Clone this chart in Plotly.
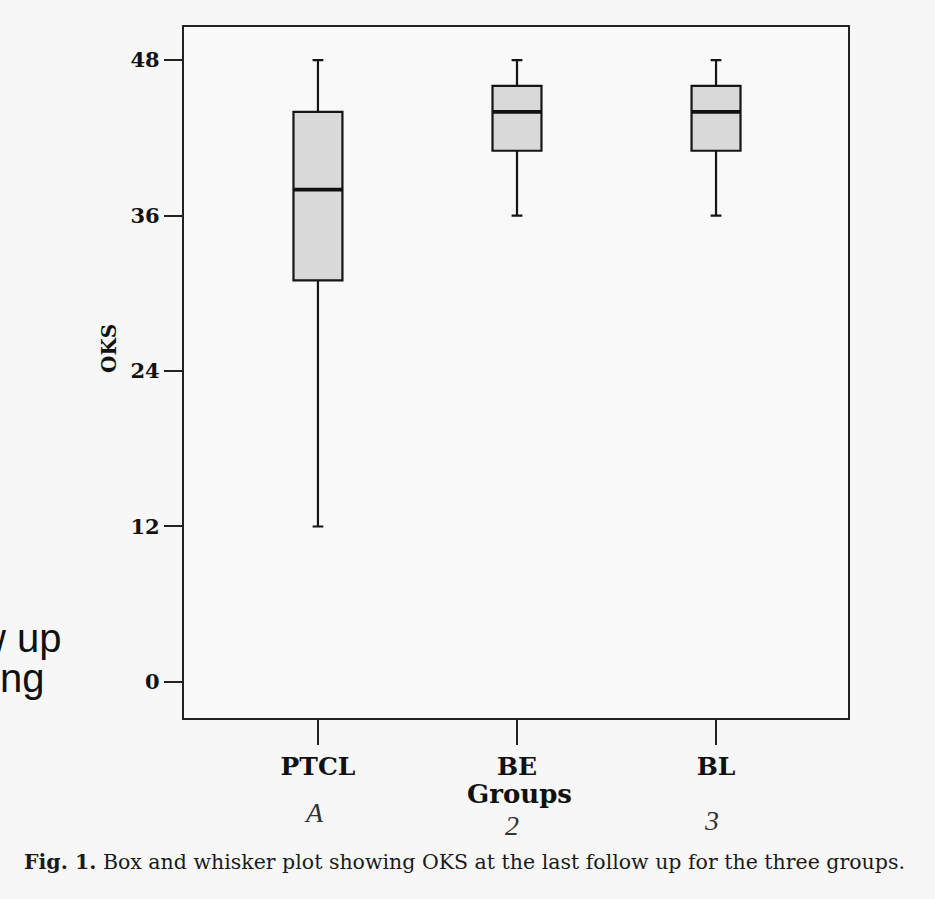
import plotly.graph_objects as go

# ---- data ----
groups = ["PTCL", "BE", "BL"]
positions = [0, 1, 2]
lower_whisker = [12, 36, 36]
q1 = [31, 41, 41]
median = [38, 44, 44]
q3 = [44, 46, 46]
upper_whisker = [48, 48, 48]
y_ticks = [0, 12, 24, 36, 48]
hand_marks = ["A", "2", "3"]

W, H = 935, 899
L, R, T, B = 184, 848, 27, 718  # plot area in pixels
BOX_W = 0.246


def px(xp):
    return (xp - L) / (R - L)


def py(yp):
    return (B - yp) / (B - T)


BG = "#f7f7f7"
SERIF = "DejaVu Serif"

fig = go.Figure()
fig.add_trace(go.Box(
    x=positions,
    q1=q1, median=median, q3=q3,
    lowerfence=lower_whisker, upperfence=upper_whisker,
    width=BOX_W,
    whiskerwidth=0.22,
    fillcolor="#d9d9d9",
    line=dict(color="#151515", width=2.2),
    boxpoints=False,
    showlegend=False,
    hoverinfo="skip",
))
# thicker median bars, drawn from the median values
for p, m in zip(positions, median):
    fig.add_trace(go.Scatter(
        x=[p - BOX_W / 2, p + BOX_W / 2], y=[m, m], mode="lines",
        line=dict(color="#111", width=3.6), showlegend=False, hoverinfo="skip",
    ))

fig.update_layout(
    width=W, height=H,
    margin=dict(l=L, r=W - R, t=T, b=H - B),
    paper_bgcolor=BG, plot_bgcolor="#f9f9f9",
    xaxis=dict(
        range=[-0.673, 2.663],
        tickvals=positions, ticktext=["<b>%s</b>" % g for g in groups],
        ticks="outside", ticklen=25, tickwidth=1.6, tickcolor="#222",
        showline=True, mirror=True, linecolor="#222", linewidth=2.2,
        showgrid=False, zeroline=False,
        tickfont=dict(family=SERIF, size=25, color="#111"),
    ),
    yaxis=dict(
        range=[-2.78, 50.55],
        tickvals=y_ticks, ticktext=["<b>%d</b>" % v for v in y_ticks],
        ticks="outside", ticklen=18, tickwidth=1.6, tickcolor="#222",
        showline=True, mirror=True, linecolor="#222", linewidth=2.2,
        showgrid=False, zeroline=False,
        tickfont=dict(family=SERIF, size=21, color="#111"),
    ),
)

ann = []
# axis titles
ann.append(dict(text="<b>Groups</b>", x=px(519), y=py(794), xref="paper", yref="paper",
                showarrow=False, font=dict(family=SERIF, size=26, color="#111"),
                xanchor="center", yanchor="middle"))
ann.append(dict(text="<b>OKS</b>", x=px(109), y=py(349), xref="paper", yref="paper",
                showarrow=False, textangle=-90, font=dict(family=SERIF, size=20, color="#111"),
                xanchor="center", yanchor="middle"))
# handwritten marks
for xp, yp, t in zip([314, 512, 711], [812, 826, 820], hand_marks):
    ann.append(dict(text="<i>%s</i>" % t, x=px(xp), y=py(yp), xref="paper", yref="paper",
                    showarrow=False, font=dict(family="Liberation Serif", size=28, color="#333"),
                    xanchor="center", yanchor="middle"))
# caption
ann.append(dict(text="<b>Fig. 1.</b> Box and whisker plot showing OKS at the last follow up for the three groups.",
                x=px(464), y=py(862), xref="paper", yref="paper",
                showarrow=False, font=dict(family=SERIF, size=20.5, color="#1a1a1a"),
                xanchor="center", yanchor="middle"))
# overlapping text fragments at left edge
ann.append(dict(text="w up", x=px(64), y=py(638), xref="paper", yref="paper",
                showarrow=False, font=dict(family="Liberation Sans", size=40, color="#111"),
                xanchor="right", yanchor="middle"))
ann.append(dict(text="ng", x=px(-2), y=py(678), xref="paper", yref="paper",
                showarrow=False, font=dict(family="Liberation Sans", size=40, color="#111"),
                xanchor="left", yanchor="middle"))
fig.update_layout(annotations=ann)

fig.write_html(
    "out.html",
    config={"displayModeBar": False},
    post_script="document.body.style.margin='0';document.body.style.background='%s';" % BG,
)
